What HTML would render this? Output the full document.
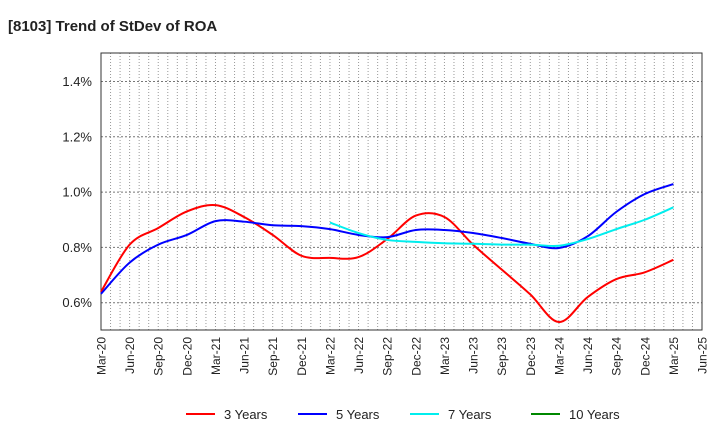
<!DOCTYPE html>
<html><head><meta charset="utf-8"><style>
body{margin:0;background:#fff;font-family:"Liberation Sans",sans-serif}
svg text{font-family:"Liberation Sans",sans-serif}
</style></head><body>
<svg width="720" height="440" xmlns="http://www.w3.org/2000/svg">
<text x="8" y="31" font-size="15" font-weight="bold" fill="#222">[8103]  Trend of StDev of ROA</text>
<g id="grid"></g>
<rect x="101" y="53" width="601" height="277" fill="none" stroke="#333" stroke-width="1"/>
<g id="yticks"></g>
<g id="xticks"></g>
<g id="series"></g>
<g>
<g><line x1="186" y1="414" x2="215" y2="414" stroke="#f00" stroke-width="2"/><text x="224" y="419" font-size="13" fill="#222">3 Years</text></g>
<g><line x1="298" y1="414" x2="327" y2="414" stroke="#00f" stroke-width="2"/><text x="336" y="419" font-size="13" fill="#222">5 Years</text></g>
<g><line x1="410" y1="414" x2="439" y2="414" stroke="#0ee" stroke-width="2"/><text x="448" y="419" font-size="13" fill="#222">7 Years</text></g>
<g><line x1="531" y1="414" x2="560" y2="414" stroke="#080" stroke-width="2"/><text x="569" y="419" font-size="13" fill="#222">10 Years</text></g>
</g>
</svg>
<script>
const categories=["Mar-20","Jun-20","Sep-20","Dec-20","Mar-21","Jun-21","Sep-21","Dec-21","Mar-22","Jun-22","Sep-22","Dec-22","Mar-23","Jun-23","Sep-23","Dec-23","Mar-24","Jun-24","Sep-24","Dec-24","Mar-25","Jun-25"];
const yTicks=[0.6,0.8,1.0,1.2,1.4];
const yTickLabels=["0.6%","0.8%","1.0%","1.2%","1.4%"];
const s3=[0.639,0.81,0.87,0.93,0.953,0.91,0.845,0.77,0.762,0.765,0.83,0.915,0.91,0.81,0.72,0.63,0.53,0.62,0.685,0.71,0.755];
const s5=[0.632,0.745,0.81,0.845,0.895,0.893,0.88,0.877,0.866,0.845,0.837,0.863,0.863,0.852,0.834,0.813,0.798,0.84,0.928,0.993,1.029];
const s7=[null,null,null,null,null,null,null,null,0.89,0.852,0.827,0.82,0.815,0.813,0.81,0.81,0.806,0.83,0.866,0.9,0.945];
const s10=[];
const NS="http://www.w3.org/2000/svg";
const X0=101,X1=702,Y06=302.7,PX=276.5;
function xs(i){return X0+i*(X1-X0)/(categories.length-1);}
function ys(v){return Y06-(v-0.6)*PX;}
const grid=document.getElementById('grid');
for(let m=1;m<(categories.length-1)*3;m++){const x=X0+m*(X1-X0)/((categories.length-1)*3);
const l=document.createElementNS(NS,'line');


l.setAttribute('x1',x);l.setAttribute('x2',x);l.setAttribute('y1',53);l.setAttribute('y2',330);l.setAttribute('stroke','#999');l.setAttribute('stroke-dasharray','1,2');grid.appendChild(l);}
const yt=document.getElementById('yticks');
yTicks.forEach((v,i)=>{const y=ys(v);
const l=document.createElementNS(NS,'line');


l.setAttribute('x1',X0);l.setAttribute('x2',X1);l.setAttribute('y1',y);l.setAttribute('y2',y);l.setAttribute('stroke','#777');l.setAttribute('stroke-dasharray','2,2');grid.appendChild(l);
const t=document.createElementNS(NS,'text');


t.setAttribute('x',92);t.setAttribute('y',y+4.5);t.setAttribute('text-anchor','end');t.setAttribute('font-size','13');t.setAttribute('fill','#222');t.textContent=yTickLabels[i];yt.appendChild(t);});
const xt=document.getElementById('xticks');
categories.forEach((c,i)=>{const x=xs(i);
const t=document.createElementNS(NS,'text');


t.setAttribute('transform','translate('+(x+4.5)+',337) rotate(-90)');t.setAttribute('text-anchor','end');t.setAttribute('font-size','12');t.setAttribute('fill','#222');t.textContent=c;xt.appendChild(t);});
function pathFor(arr){const p=[];arr.forEach((v,i)=>{if(v!=null)p.push([xs(i),ys(v)]);});
if(p.length<2)return '';let d='M'+p[0][0]+','+p[0][1];
for(let i=0;i<p.length-1;i++){const a=p[i-1]||p[i],b=p[i],c=p[i+1],e=p[i+2]||c;
d+=' C'+(b[0]+(c[0]-a[0])/6)+','+(b[1]+(c[1]-a[1])/6)+' '+(c[0]-(e[0]-b[0])/6)+','+(c[1]-(e[1]-b[1])/6)+' '+c[0]+','+c[1];}
return d;}
const sg=document.getElementById('series');
[[s3,'#f00','line-3-years'],[s5,'#00f','line-5-years'],[s7,'#0ee','line-7-years'],[s10,'#080','line-10-years']].forEach(([arr,col,name])=>{
const d=pathFor(arr);if(!d)return;
const p=document.createElementNS(NS,'path');


p.setAttribute('d',d);p.setAttribute('fill','none');p.setAttribute('stroke',col);p.setAttribute('stroke-width','2');sg.appendChild(p);});
</script>
</body></html>
